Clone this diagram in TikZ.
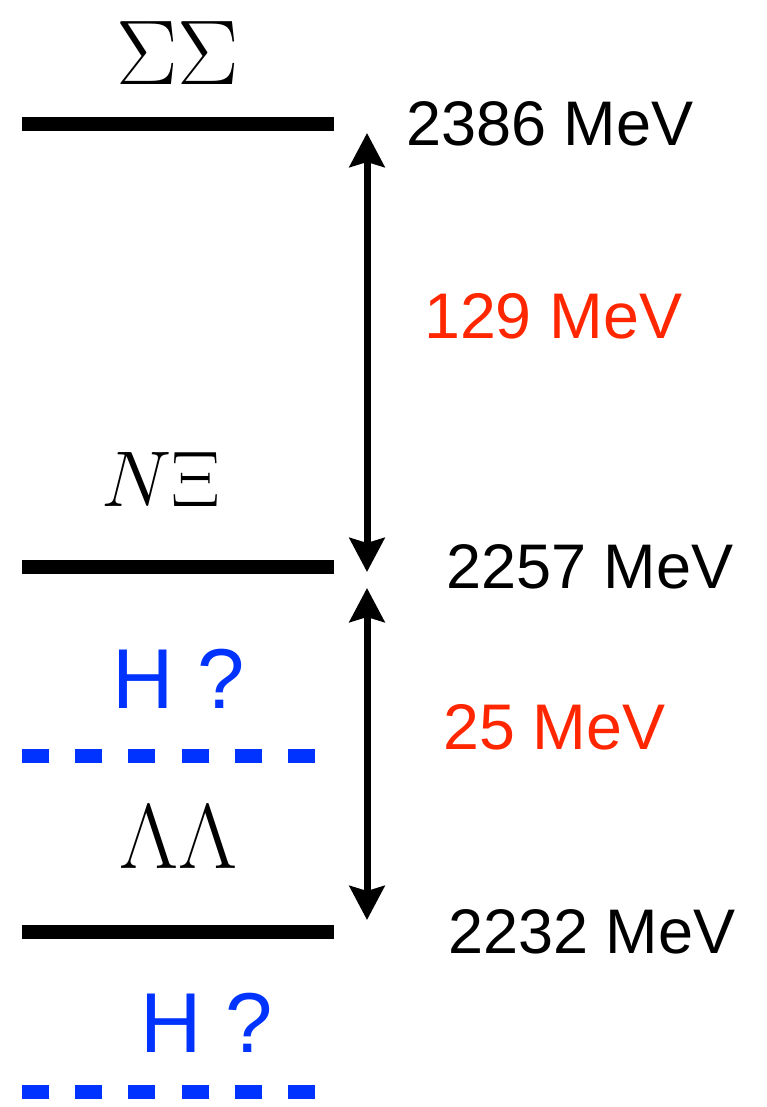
\RequirePackage{fix-cm}
\documentclass[tikz,border=0pt]{standalone}
\usepackage{fontspec}
\setsansfont{Liberation Sans}
\usetikzlibrary{arrows.meta}
\definecolor{hblue}{RGB}{0,51,255}
\definecolor{gapred}{RGB}{255,38,0}
\begin{document}
\begin{tikzpicture}[x=1pt, y=-1pt, inner sep=0pt,
    level/.style={line width=14pt},
    hlevel/.style={line width=14pt, hblue, dash pattern=on 27pt off 26.2pt},
    mass/.style={anchor=base west, font=\fontsize{63}{70}\selectfont\sffamily},
    gaplabel/.style={anchor=base west, text=gapred, font=\fontsize{64.5}{72}\selectfont\sffamily},
    hlabel/.style={anchor=base west, text=hblue, font=\fontsize{85}{90}\selectfont\sffamily},
    channel/.style={anchor=base},
    gaparrow/.style={line width=7pt,
      {Stealth[length=34pt,width=35pt,inset=5pt]}-{Stealth[length=34pt,width=35pt,inset=5pt]}}]
  \useasboundingbox (0,0) rectangle (766,1107);

  % Schwellen
  \foreach \y/\m/\xm [count=\i] in {124/2386/406, 566.5/2257/446, 931.5/2232/448} {
    \draw[level] (22,\y) -- (334,\y);
    \node[mass] (m\i) at (\xm,\y+21.5) {\m\ MeV};
  }
  \node[channel, font=\fontsize{92}{100}\selectfont] (ss) at (178,85) {$\Sigma\Sigma$};
  \node[channel, font=\fontsize{79}{85}\selectfont] (nx) at (161,506) {$N\Xi$};
  \node[channel, font=\fontsize{92}{100}\selectfont] (ll) at (178.5,868) {$\Lambda\Lambda$};

  % H-Dibaryon (unsicher)
  \draw[hlevel] (22,755.5) -- (318,755.5);
  \node[hlabel] (h1) at (112,708) {H ?};
  \draw[hlevel] (22,1091.5) -- (318,1091.5);
  \node[hlabel] (h2) at (140,1052) {H ?};

  % Abstaende
  \coordinate (a1) at (367,133);
  \coordinate (a2) at (367,572);
  \coordinate (b1) at (367,588);
  \coordinate (b2) at (367,920);
  \draw[gaparrow] (a1) -- (a2);
  \draw[gaparrow] (b1) -- (b2);
  \node[gaplabel] (g1) at (424,338) {129 MeV};
  \node[gaplabel] (g2) at (443,749) {25 MeV};
\end{tikzpicture}
\end{document}
